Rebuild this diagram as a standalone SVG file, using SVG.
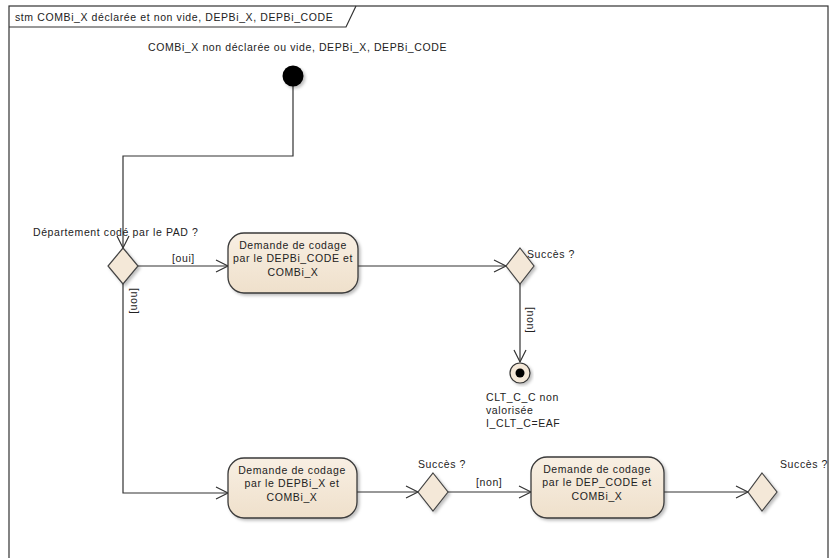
<svg xmlns="http://www.w3.org/2000/svg" width="836" height="558" viewBox="0 0 836 558">
<style>
text{font-family:"Liberation Sans",Arial,sans-serif;font-size:10.5px;fill:#222;letter-spacing:0.6px}
.c{text-anchor:middle}
.edge{fill:none;stroke:#333;stroke-width:1.2}
.act{fill:url(#g);stroke:#3a3a3a;stroke-width:1.3}
.dec{fill:#f4e8d8;stroke:#444;stroke-width:1.2}
.frame{fill:none;stroke:#333;stroke-width:1.2}
</style>
<defs>
<linearGradient id="g" x1="0" y1="0" x2="0" y2="1">
<stop offset="0" stop-color="#f8efe3"/>
<stop offset="1" stop-color="#efe0cb"/>
</linearGradient>
<filter id="sh" x="-10%" y="-10%" width="130%" height="130%">
<feDropShadow dx="2" dy="2" stdDeviation="1.5" flood-color="#000" flood-opacity="0.25"/>
</filter>
<marker id="arr" markerUnits="userSpaceOnUse" markerWidth="16" markerHeight="16" refX="13" refY="7" orient="auto">
<path d="M1,1 L13,7 L1,13" fill="none" stroke="#333" stroke-width="1.2"/>
</marker>
</defs>
<rect width="836" height="558" fill="#fff"/>
<g id="frame">
<rect class="frame" x="9" y="6" width="819" height="560"/>
<path class="frame" d="M9,27 H346 L356,6"/>
<text x="15" y="21">stm COMBi_X déclarée et non vide, DEPBi_X, DEPBi_CODE</text>
</g>
<g id="connectors">
<path class="edge" d="M293,86 V156 H123 V248" marker-end="url(#arr)"/>
<path class="edge" d="M138,266 H228" marker-end="url(#arr)"/>
<text x="172" y="262">[oui]</text>
<path class="edge" d="M123,284 V493 H228" marker-end="url(#arr)"/>
<text transform="translate(131,288) rotate(90)">[non]</text>
<path class="edge" d="M358,266 H506" marker-end="url(#arr)"/>
<path class="edge" d="M520,284 V362" marker-end="url(#arr)"/>
<text transform="translate(527,307) rotate(90)">[non]</text>
<path class="edge" d="M357,492 H418" marker-end="url(#arr)"/>
<path class="edge" d="M448,492 H531" marker-end="url(#arr)"/>
<text x="476" y="486">[non]</text>
<path class="edge" d="M664,492 H748" marker-end="url(#arr)"/>
</g>
<g id="initial">
<circle cx="293" cy="76" r="10.5" fill="#000" filter="url(#sh)"/>
<text x="148" y="51">COMBi_X non déclarée ou vide, DEPBi_X, DEPBi_CODE</text>
</g>
<g id="decision1">
<polygon class="dec" points="123,248 138,266 123,284 108,266" filter="url(#sh)"/>
<text x="33" y="236">Département codé par le PAD ?</text>
</g>
<g id="action1">
<rect class="act" x="228" y="233" width="130" height="60" rx="16" filter="url(#sh)"/>
<text class="c" x="293" y="249">Demande de codage</text>
<text class="c" x="293" y="262">par le DEPBi_CODE et</text>
<text class="c" x="293" y="276">COMBi_X</text>
</g>
<g id="decision2">
<polygon class="dec" points="520,248 534,266 520,284 506,266" filter="url(#sh)"/>
<text x="527" y="258">Succès ?</text>
</g>
<g id="final">
<circle cx="520" cy="373" r="10" fill="#f4e8d8" stroke="#333" stroke-width="1.2" filter="url(#sh)"/>
<circle cx="520" cy="373" r="4.5" fill="#000"/>
<text x="486" y="401">CLT_C_C non</text>
<text x="486" y="414">valorisée</text>
<text x="486" y="427">I_CLT_C=EAF</text>
</g>
<g id="action2">
<rect class="act" x="228" y="458" width="129" height="60" rx="16" filter="url(#sh)"/>
<text class="c" x="292" y="474">Demande de codage</text>
<text class="c" x="292" y="487">par le DEPBi_X et</text>
<text class="c" x="292" y="501">COMBi_X</text>
</g>
<g id="decision3">
<polygon class="dec" points="433,473 448,492 433,511 418,492" filter="url(#sh)"/>
<text x="418" y="468">Succès ?</text>
</g>
<g id="action3">
<rect class="act" x="531" y="457" width="133" height="61" rx="16" filter="url(#sh)"/>
<text class="c" x="597" y="473">Demande de codage</text>
<text class="c" x="597" y="486">par le DEP_CODE et</text>
<text class="c" x="597" y="500">COMBi_X</text>
</g>
<g id="decision4">
<polygon class="dec" points="762,473 777,492 762,511 748,492" filter="url(#sh)"/>
<text x="780" y="468">Succès ?</text>
</g>
</svg>
